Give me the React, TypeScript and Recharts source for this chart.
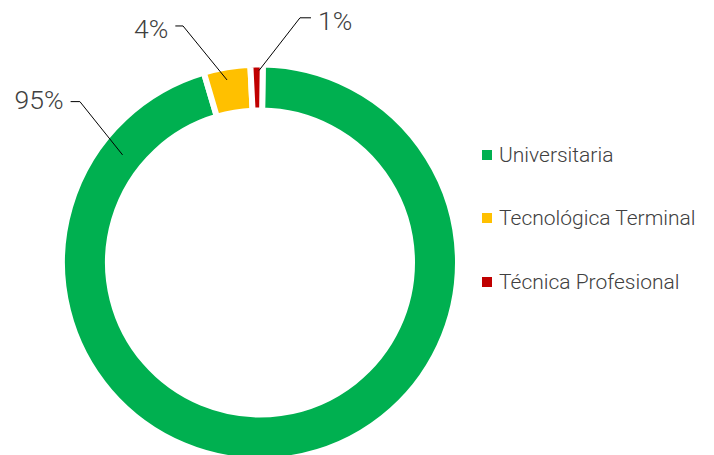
import { PieChart, Pie, Cell, Legend } from "recharts";

// shares by type of higher education (percent)
const categories = ["Universitaria", "Tecnológica Terminal", "Técnica Profesional"];
const shares = [95.2, 3.8, 1.0];
const colors = ["#00B050", "#FFC000", "#C00000"];

const data = categories.map((name, i) => ({ name, value: shares[i] }));

// leader-line placement for each slice label (angle shift from mid angle, radius, elbow offset, text offset)
const labelLayout = [
  { shift: -135.9, r: 174.5, ex: -42.7, ey: -53.3, hx: -9.3, ty: -2 },
  { shift: 0.6, r: 185.5, ex: -44, ey: -54, hx: -7.7, ty: 3 },
  { shift: -0.7, r: 192, ex: 41, ey: -52.7, hx: 11, ty: 3 },
];

const RAD = Math.PI / 180;
const FONT = "Roboto, 'Liberation Sans', Arial, sans-serif";

function renderLabel(props: any) {
  const { cx, cy, midAngle, percent, index } = props;
  const lay = labelLayout[index];
  const a = midAngle + lay.shift;
  const x0 = Number(cx) + Math.cos(-a * RAD) * lay.r;
  const y0 = Number(cy) + Math.sin(-a * RAD) * lay.r;
  const x1 = x0 + lay.ex;
  const y1 = y0 + lay.ey;
  const x2 = x1 + lay.hx;
  const right = lay.hx > 0;
  return (
    <g key={"lbl" + index}>
      <polyline
        points={`${x0},${y0} ${x1},${y1} ${x2},${y1}`}
        stroke="#000"
        strokeWidth={1}
        fill="none"
      />
      <text
        x={right ? x2 + 7 : x2 - 7}
        y={y1 + lay.ty}
        textAnchor={right ? "start" : "end"}
        dominantBaseline="central"
        fontSize={26.5}
        fontWeight={300}
        fontFamily={FONT}
        fill="#404040"
      >
        {Math.round(percent * 100)}%
      </text>
    </g>
  );
}

function LegendBox() {
  return (
    <div style={{ fontFamily: FONT }}>
      {categories.map((c, i) => (
        <div
          key={c}
          style={{ display: "flex", alignItems: "center", height: 20, marginBottom: 43.3 }}
        >
          <span
            style={{ width: 10, height: 10, background: colors[i], display: "inline-block", marginRight: 7 }}
          />
          <span style={{ fontSize: 21, fontWeight: 300, color: "#404040", whiteSpace: "nowrap" }}>{c}</span>
        </div>
      ))}
    </div>
  );
}

export default function App() {
  return (
    <div style={{ position: "absolute", left: 0, top: 0, width: 714, height: 455, overflow: "hidden", background: "#fff" }}>
      <PieChart width={714} height={455} margin={{ top: 0, right: 0, bottom: 0, left: 0 }}>
        <Pie
          data={data}
          dataKey="value"
          nameKey="name"
          cx={260}
          cy={262.5}
          innerRadius={152}
          outerRadius={198}
          startAngle={89.2}
          endAngle={-270.8}
          stroke="#fff"
          strokeWidth={6}
          label={renderLabel}
          labelLine={false}
          isAnimationActive={false}
        >
          {data.map((d, i) => (
            <Cell key={d.name} fill={colors[i]} />
          ))}
        </Pie>
        <Legend
          content={() => <LegendBox />}
          wrapperStyle={{ position: "absolute", left: 482, top: 145, width: 230, right: "auto", bottom: "auto" }}
        />
      </PieChart>
    </div>
  );
}
